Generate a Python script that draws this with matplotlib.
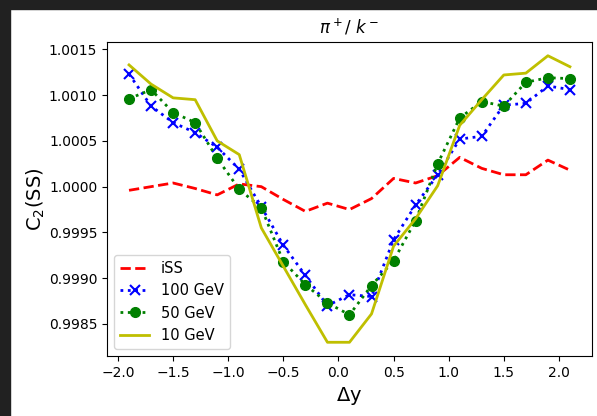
import numpy as np
import matplotlib
matplotlib.use('Agg')
import matplotlib.pyplot as plt
from matplotlib.patches import Rectangle

# rapidity difference bins
dy = [-1.9, -1.7, -1.5, -1.3, -1.1, -0.9, -0.7, -0.5, -0.3, -0.1, 0.1,
      0.3, 0.5, 0.7, 0.9, 1.1, 1.3, 1.5, 1.7, 1.9, 2.1]

c2_iss = [0.99996, 1.00000, 1.00004, 0.99998, 0.99991, 1.00003, 1.00000,
          0.99986, 0.99973, 0.99982, 0.99975, 0.99987, 1.00009, 1.00004,
          1.00012, 1.00032, 1.00020, 1.00013, 1.00013, 1.00029, 1.00018]

c2_100 = [1.00123, 1.00088, 1.00070, 1.00059, 1.00043, 1.00019, 0.99978,
          0.99936, 0.99903, 0.99870, 0.99882, 0.99880, 0.99942, 0.99980,
          1.00013, 1.00052, 1.00055, 1.00089, 1.00091, 1.00110, 1.00106]

c2_50 = [1.00096, 1.00106, 1.00081, 1.00070, 1.00031, 0.99997, 0.99977,
         0.99918, 0.99893, 0.99873, 0.99860, 0.99892, 0.99919, 0.99963,
         1.00025, 1.00075, 1.00093, 1.00088, 1.00114, 1.00119, 1.00118]

c2_10 = [1.00133, 1.00112, 1.00097, 1.00095, 1.00050, 1.00035, 0.99955,
         0.99913, 0.99871, 0.99830, 0.99830, 0.99861, 0.99935, 0.99965,
         1.00001, 1.00067, 1.00095, 1.00122, 1.00124, 1.00143, 1.00131]

fig = plt.figure(figsize=(5.97, 4.16), dpi=100)
ax = fig.add_axes([0.1792, 0.1442, 0.8124, 0.7548])

ax.plot(dy, c2_iss, 'r--', lw=2, label='iSS')
ax.plot(dy, c2_100, 'b:x', lw=2, ms=7, mew=1.5, label='100 GeV')
ax.plot(dy, c2_50, 'g:o', lw=2, ms=7, label='50 GeV')
ax.plot(dy, c2_10, 'y-', lw=2, label='10 GeV')

ax.set_title(r'$\pi^+/\ k^-$', fontsize=12)
ax.set_xlabel(r'$\Delta$y', fontsize=14)
ax.set_ylabel(r'C$_2$(SS)', fontsize=14, labelpad=1)
ax.set_xticks(np.arange(-2.0, 2.01, 0.5))
ax.set_ylim(0.99815, 1.00158)
ax.yaxis.set_major_formatter(matplotlib.ticker.FormatStrFormatter('%.4f'))
ax.set_yticks([0.9985, 0.9990, 0.9995, 1.0000, 1.0005, 1.0010, 1.0015])
ax.legend(loc='lower left', fontsize=10.5)

# dark frame strips around the screenshot
dark = '#212121'
fig.add_artist(Rectangle((0, 1 - 8.5 / 416), 1, 8.5 / 416, transform=fig.transFigure,
                         color=dark, zorder=10))
fig.add_artist(Rectangle((0, 0), 10 / 597, 1, transform=fig.transFigure,
                         color=dark, zorder=10))

fig.savefig('out.png', dpi=100)
